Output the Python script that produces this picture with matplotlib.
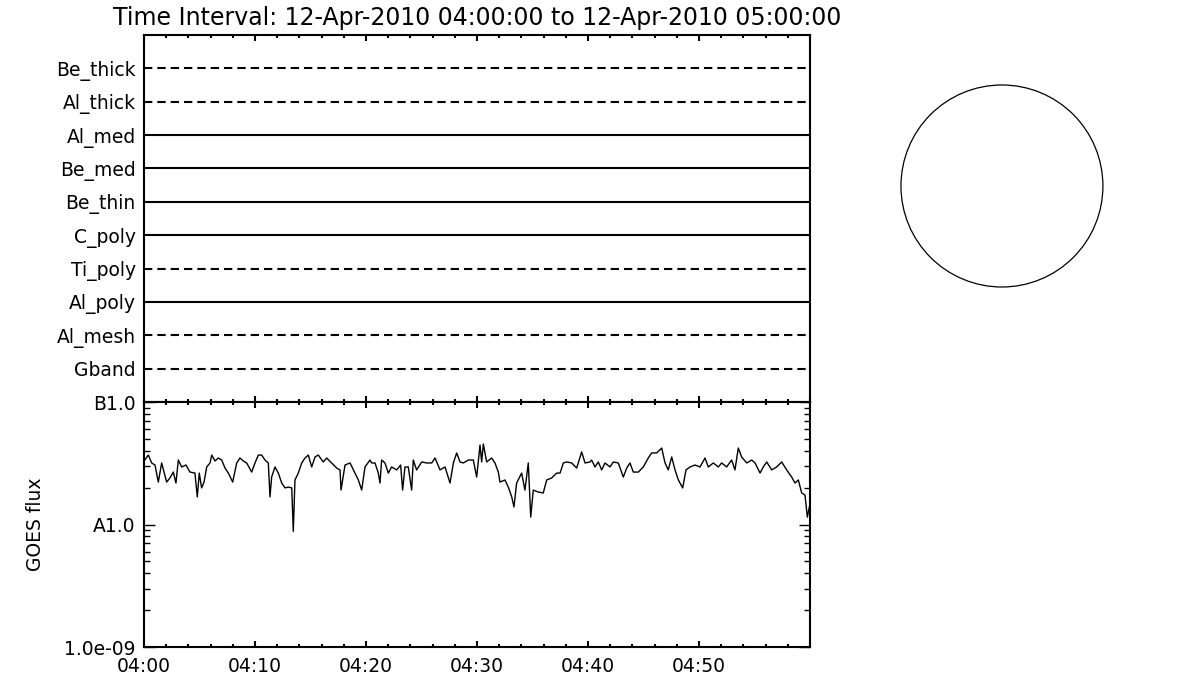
import matplotlib
matplotlib.use("Agg")
import matplotlib.pyplot as plt
from matplotlib.patches import Circle
from matplotlib.ticker import FixedLocator, LogLocator, NullFormatter

plt.rcParams['font.family'] = ['DejaVu Sans']

title = 'Time Interval: 12-Apr-2010 04:00:00 to 12-Apr-2010 05:00:00'

# filter rows, top to bottom, and whether each is drawn dashed
filters = ['Be_thick', 'Al_thick', 'Al_med', 'Be_med', 'Be_thin',
           'C_poly', 'Ti_poly', 'Al_poly', 'Al_mesh', 'Gband']
dashed = [True, True, False, False, False, False, True, False, True, True]

# GOES flux, minutes after 04:00 and W/m^2 (in units of 1e-8)
time_min = [0.0, 0.39, 0.69, 0.99, 1.29, 1.59, 2.04, 2.34, 2.64, 2.88,
            3.09, 3.39, 3.78, 4.14, 4.59, 4.80, 4.98, 5.19, 5.41, 5.65,
            5.95, 6.10, 6.40, 6.69, 7.00, 7.30, 7.60, 7.99, 8.35, 8.65,
            8.95, 9.25, 9.70, 10.0, 10.30, 10.60, 10.90, 11.20, 11.35, 11.50,
            11.80, 12.10, 12.41, 12.70, 13.00, 13.31, 13.45, 13.60, 13.90, 14.21,
            14.50, 14.80, 15.11, 15.41, 15.70, 16.15, 16.46, 16.91, 17.36, 17.66,
            17.75, 18.11, 18.56, 19.01, 19.31, 19.61, 19.91, 20.36, 20.51, 20.81,
            21.11, 21.26, 21.41, 21.71, 22.01, 22.31, 22.76, 23.12, 23.30, 23.51,
            23.81, 24.11, 24.26, 24.56, 25.02, 25.47, 25.92, 26.22, 26.67, 27.12,
            27.57, 27.87, 28.17, 28.47, 28.77, 29.22, 29.67, 29.97, 30.27, 30.42,
            30.57, 30.87, 31.32, 31.62, 31.92, 32.07, 32.52, 32.82, 33.13, 33.33,
            33.57, 34.02, 34.32, 34.62, 34.84, 35.07, 35.52, 35.97, 36.28, 36.73,
            37.18, 37.48, 37.78, 38.08, 38.53, 38.98, 39.43, 39.73, 40.18, 40.33,
            40.63, 40.93, 41.23, 41.53, 41.98, 42.28, 42.73, 43.18, 43.49, 43.78,
            44.08, 44.53, 44.98, 45.43, 45.74, 46.19, 46.64, 46.94, 47.23, 47.54,
            47.84, 48.14, 48.53, 48.83, 49.19, 49.64, 50.09, 50.54, 50.84, 51.29,
            51.74, 52.04, 52.49, 52.94, 53.24, 53.54, 53.84, 54.30, 54.75, 55.05,
            55.50, 55.79, 56.10, 56.55, 57.00, 57.45, 57.90, 58.35, 58.65, 58.95,
            59.25, 59.55, 59.76, 59.94]
flux_e8 = [3.30, 3.69, 3.18, 3.06, 2.22, 3.18, 2.22, 2.40, 2.68, 2.18,
           3.36, 2.95, 3.06, 2.68, 2.63, 1.68, 2.63, 1.99, 2.22, 2.95,
           3.18, 3.69, 3.30, 3.49, 3.36, 2.89, 2.63, 2.22, 3.18, 3.49,
           3.30, 3.18, 2.68, 3.18, 3.69, 3.69, 3.36, 3.18, 1.68, 2.44,
           2.95, 2.63, 2.18, 1.99, 2.02, 1.99, 0.88, 2.31, 2.63, 3.18,
           3.49, 3.69, 2.95, 3.56, 3.69, 3.24, 3.49, 3.18, 2.89, 2.79,
           1.91, 3.06, 3.18, 2.63, 2.31, 1.91, 2.95, 3.36, 3.18, 3.18,
           2.63, 2.18, 3.36, 3.18, 2.63, 2.95, 2.79, 3.06, 1.91, 2.95,
           2.95, 1.91, 3.36, 2.79, 3.24, 3.18, 3.18, 3.49, 2.79, 2.95,
           2.18, 3.18, 3.84, 3.24, 3.18, 3.36, 3.36, 2.44, 4.46, 3.24,
           4.54, 3.24, 3.49, 3.18, 2.68, 2.22, 2.31, 2.02, 1.68, 1.39,
           2.18, 2.63, 1.91, 3.18, 1.15, 1.91, 1.84, 1.81, 2.31, 2.40,
           2.63, 2.63, 3.18, 3.24, 3.18, 2.89, 3.91, 3.18, 3.24, 3.36,
           2.95, 3.24, 2.79, 3.18, 2.95, 3.24, 3.18, 2.44, 2.89, 3.18,
           2.68, 2.68, 2.95, 3.49, 3.84, 3.84, 4.21, 3.18, 2.79, 3.56,
           2.79, 2.31, 1.99, 2.79, 2.95, 3.06, 2.95, 3.49, 2.95, 3.18,
           2.95, 3.18, 2.95, 3.36, 2.79, 4.21, 3.56, 3.18, 3.36, 3.18,
           2.63, 2.95, 3.24, 2.79, 2.95, 3.24, 2.79, 2.44, 2.18, 2.31,
           1.81, 1.74, 1.15, 1.39]

xtick_labels = ['04:00', '04:10', '04:20', '04:30', '04:40', '04:50', '']
ytick_pos = [1e-9, 1e-8, 1e-7]
ytick_labels = ['1.0e-09', 'A1.0', 'B1.0']

fig = plt.figure(figsize=(12, 7), dpi=100)
ax_top = fig.add_axes([0.12, 0.4257, 0.555, 0.5243])
ax_bot = fig.add_axes([0.12, 0.0757, 0.555, 0.35])

for ax in (ax_top, ax_bot):
    for sp in ax.spines.values():
        sp.set_linewidth(1.5)
    ax.set_xlim(0, 60)
    ax.xaxis.set_major_locator(FixedLocator(list(range(0, 61, 10))))
    ax.xaxis.set_minor_locator(FixedLocator(list(range(0, 61, 2))))
    ax.tick_params(axis='x', which='both', direction='in', top=True, bottom=True,
                   width=1.5, labelsize=13.5, pad=7)
    ax.tick_params(axis='x', which='major', length=4.5)
    ax.tick_params(axis='x', which='minor', length=2)

# filter panel
n = len(filters)
rows = list(range(n, 0, -1))
for name, y, dsh in zip(filters, rows, dashed):
    if dsh:
        ax_top.plot([0, 60], [y, y], color='black', lw=1.5, ls=(0, (4.0, 2.4)))
    else:
        ax_top.plot([0, 60], [y, y], color='black', lw=1.5)
ax_top.set_ylim(0, n + 1)
ax_top.set_yticks(rows)
ax_top.set_yticklabels(filters)
ax_top.tick_params(axis='y', length=0, labelsize=13.5, pad=6)
ax_top.set_xticklabels([])
ax_top.set_title(title, fontsize=17, pad=7)

# GOES panel
flux = [v * 1e-8 for v in flux_e8]
ax_bot.plot(time_min, flux, color='black', lw=1.0)
ax_bot.set_yscale('log')
ax_bot.set_ylim(1e-9, 1e-7)
ax_bot.yaxis.set_major_locator(FixedLocator(ytick_pos))
ax_bot.set_yticklabels(ytick_labels)
ax_bot.yaxis.set_minor_locator(LogLocator(base=10, subs=range(2, 10)))
ax_bot.yaxis.set_minor_formatter(NullFormatter())
ax_bot.tick_params(axis='y', which='both', direction='in', left=True, right=True,
                   width=1.0, labelsize=13.5, pad=6)
ax_bot.tick_params(axis='y', which='major', length=8)
ax_bot.tick_params(axis='y', which='minor', length=4.5)
ax_bot.set_xticklabels(xtick_labels)
ax_bot.set_ylabel('GOES flux', fontsize=13.5, labelpad=14)

# solar disk outline
disk_r = 1.0
ax_sun = fig.add_axes([0.7508, 0.59, 0.1683, 0.2886])
ax_sun.add_patch(Circle((0, 0), disk_r, fill=False, color='black', lw=0.9,
                        clip_on=False))
ax_sun.set_xlim(-1.0, 1.0)
ax_sun.set_ylim(-1.0, 1.0)
ax_sun.axis('off')

fig.savefig('out.png', dpi=100)
